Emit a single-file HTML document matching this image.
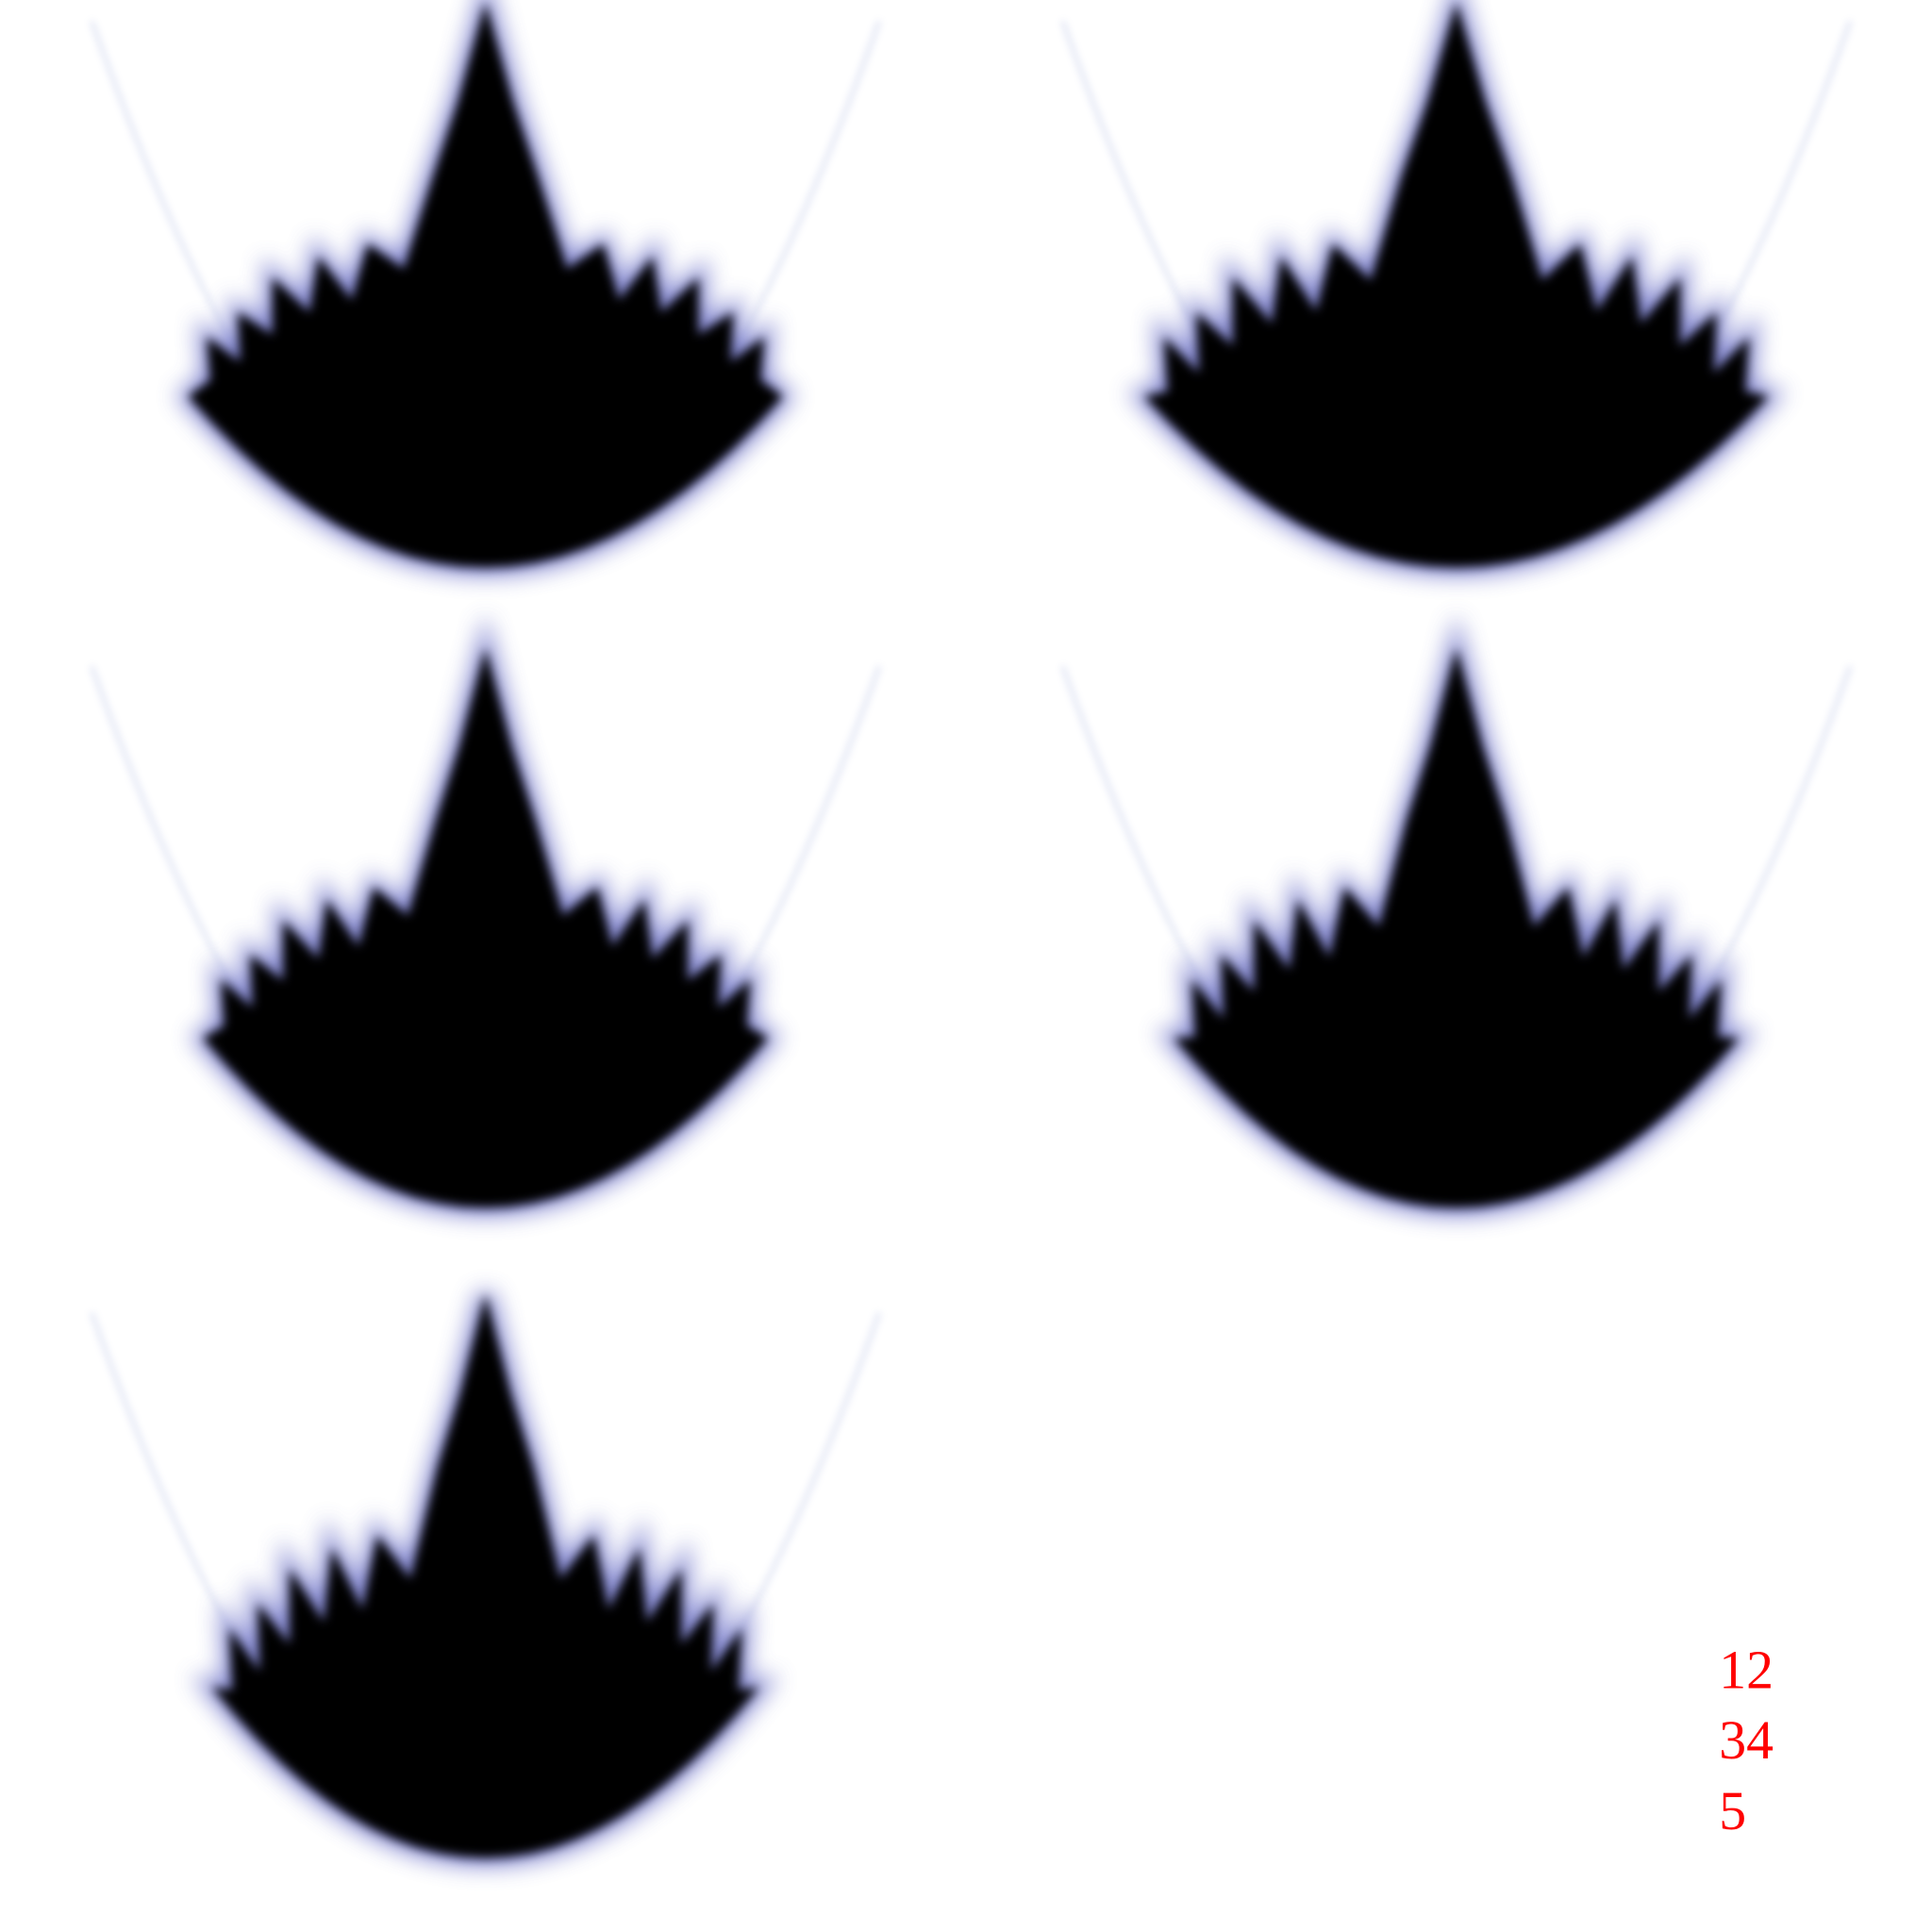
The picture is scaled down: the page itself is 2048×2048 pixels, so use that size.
<!DOCTYPE html>
<html><head><meta charset="utf-8">
<style>
html,body{margin:0;padding:0;background:#fff;}
svg{display:block;}
</style></head>
<body>
<svg id="chart" width="2048" height="2048" viewBox="0 0 1560 1560" xmlns="http://www.w3.org/2000/svg">
<defs>
<filter id="blur" x="-20%" y="-20%" width="140%" height="140%"><feGaussianBlur stdDeviation="9"/></filter>
<filter id="blurc" x="-20%" y="-20%" width="140%" height="140%"><feGaussianBlur stdDeviation="4"/></filter>
<filter id="blur2" x="-20%" y="-20%" width="140%" height="140%"><feGaussianBlur stdDeviation="3"/></filter>
</defs>
<g id="panels"></g>
<g font-family="Liberation Serif, serif" font-size="44" fill="#ff0000">
<text x="1388" y="1363">12</text>
<text x="1388" y="1420">34</text>
<text x="1388" y="1477">5</text>
</g>
</svg>
<script>
const panelCx = [392, 1176, 392, 1176, 392];
const panelTop = [2, 2, 523, 523, 1045];
const panelBottom = [458, 458, 975, 975, 1500];
const spikeScale = [1.0, 0.85, 0.95, 0.8, 0.75];
const widthScale = [1.0, 1.05, 0.95, 0.95, 0.92];
const tplX = [0,22,42,66,95,108,135,142,172,172,200,198,225,222,240];
const tplY = [0,80,140,215,195,240,205,250,222,268,250,290,270,305,318];
const NS = "http://www.w3.org/2000/svg";
const g = document.getElementById('panels');
for (let i = 0; i < panelCx.length; i++) {
  const cx = panelCx[i], top = panelTop[i], h = panelBottom[i] - top;
  const s = h / 456, sp = spikeScale[i], ws = widthScale[i];
  const pg = document.createElementNS(NS, 'g');
  
  
  const par = document.createElementNS(NS, 'path');
  const L = cx - 318, R = cx + 318;
  par.setAttribute('d', `M${L},${top+15} Q${cx},${top+h*1.98} ${R},${top+15}`);
  par.setAttribute('fill', 'none');
  par.setAttribute('stroke', '#7f8fd0');
  par.setAttribute('stroke-width', '3');
  par.setAttribute('opacity', '0.28');
  par.setAttribute('filter', 'url(#blur2)');
  
  
  pg.appendChild(par);
  const pts = [];
  for (let k = 0; k < tplX.length; k++) {
    let dy = tplY[k];
    if (k >= 3 && k % 2 === 1) dy = dy + (1 - sp) * 60;
    pts.push([cx + tplX[k] * ws, top + dy * s]);
  }
  // parabolic bottom
  const ex = 240 * ws, kk = (456 - 318) / (240 * 240);
  for (let t = 1; t <= 12; t++) {
    const u = 240 * (1 - t / 12);
    pts.push([cx + u * ws, top + (456 - kk * u * u) * s]);
  }
  const left = pts.slice(0, -1).reverse().map(p => [2 * cx - p[0], p[1]]);
  const all = pts.concat(left.slice(0, -1));
  const d = 'M' + all.map(p => p[0].toFixed(1) + ',' + p[1].toFixed(1)).join(' L') + 'Z';
  const glow = document.createElementNS(NS, 'path');
  glow.setAttribute('d', d);
  glow.setAttribute('fill', '#3a3aa0');
  glow.setAttribute('stroke', '#6a70c8');
  glow.setAttribute('stroke-width', '14');
  glow.setAttribute('opacity', '0.8');
  glow.setAttribute('filter', 'url(#blur)');
  
  
  pg.appendChild(glow);
  const core = document.createElementNS(NS, 'path');
  core.setAttribute('d', d);
  core.setAttribute('fill', '#000');
  core.setAttribute('filter', 'url(#blurc)');
  
  
  pg.appendChild(core);
  g.appendChild(pg);
}
</script>
</body></html>
